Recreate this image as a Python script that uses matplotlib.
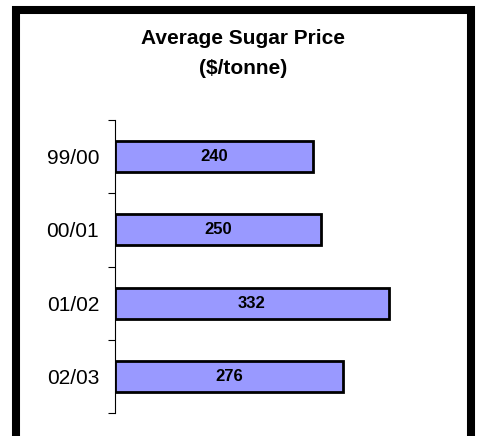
import matplotlib
matplotlib.use("Agg")
from matplotlib import pyplot as plt
from matplotlib.patches import Rectangle

# data
seasons = ["99/00", "00/01", "01/02", "02/03"]
prices = [240, 250, 332, 276]

plt.rcParams['font.family'] = ['Liberation Sans', 'DejaVu Sans']

fig = plt.figure(figsize=(4.78, 4.36), dpi=100)
ax = fig.add_axes([115/478, 1-413/436, 330/478, 293/436])

pos = list(range(len(seasons)))
bars = ax.barh(pos, prices, height=0.42, color="#9999FF",
               edgecolor="black", linewidth=2.0)

# value labels in the middle of each bar
for b, v in zip(bars, prices):
    ax.text(b.get_width()/2, b.get_y()+b.get_height()/2, str(v),
            ha="center", va="center", fontsize=12, fontweight="bold")

ax.set_xlim(0, 400)
ax.set_ylim(3.5, -0.5)

# tick marks between categories, labels on the categories
ax.set_yticks([-0.5, 0.5, 1.5, 2.5, 3.5])
ax.set_yticklabels([])
ax.set_yticks(pos, minor=True)
ax.set_yticklabels(seasons, minor=True, fontsize=15)
ax.tick_params(axis="y", which="major", length=5, width=0.8, direction="out")
ax.tick_params(axis="y", which="minor", length=0, pad=11.5)
ax.set_xticks([])

for s in ["top", "right", "bottom"]:
    ax.spines[s].set_visible(False)
ax.spines["left"].set_linewidth(0.8)

fig.text(243/478, 1-38/436, "Average Sugar Price", ha="center", va="center",
         fontsize=15, fontweight="bold")
fig.text(243/478, 1-68/436, "($/tonne)", ha="center", va="center",
         fontsize=15, fontweight="bold")

# thick frame around the chart, bottom edge runs off the picture
frame = Rectangle((16/478, -0.1), (471-16)/478, 1.1-10/436,
                  transform=fig.transFigure, fill=False,
                  edgecolor="black", linewidth=5.8, clip_on=False)
fig.patches.append(frame)

fig.savefig("out.png", dpi=100)
